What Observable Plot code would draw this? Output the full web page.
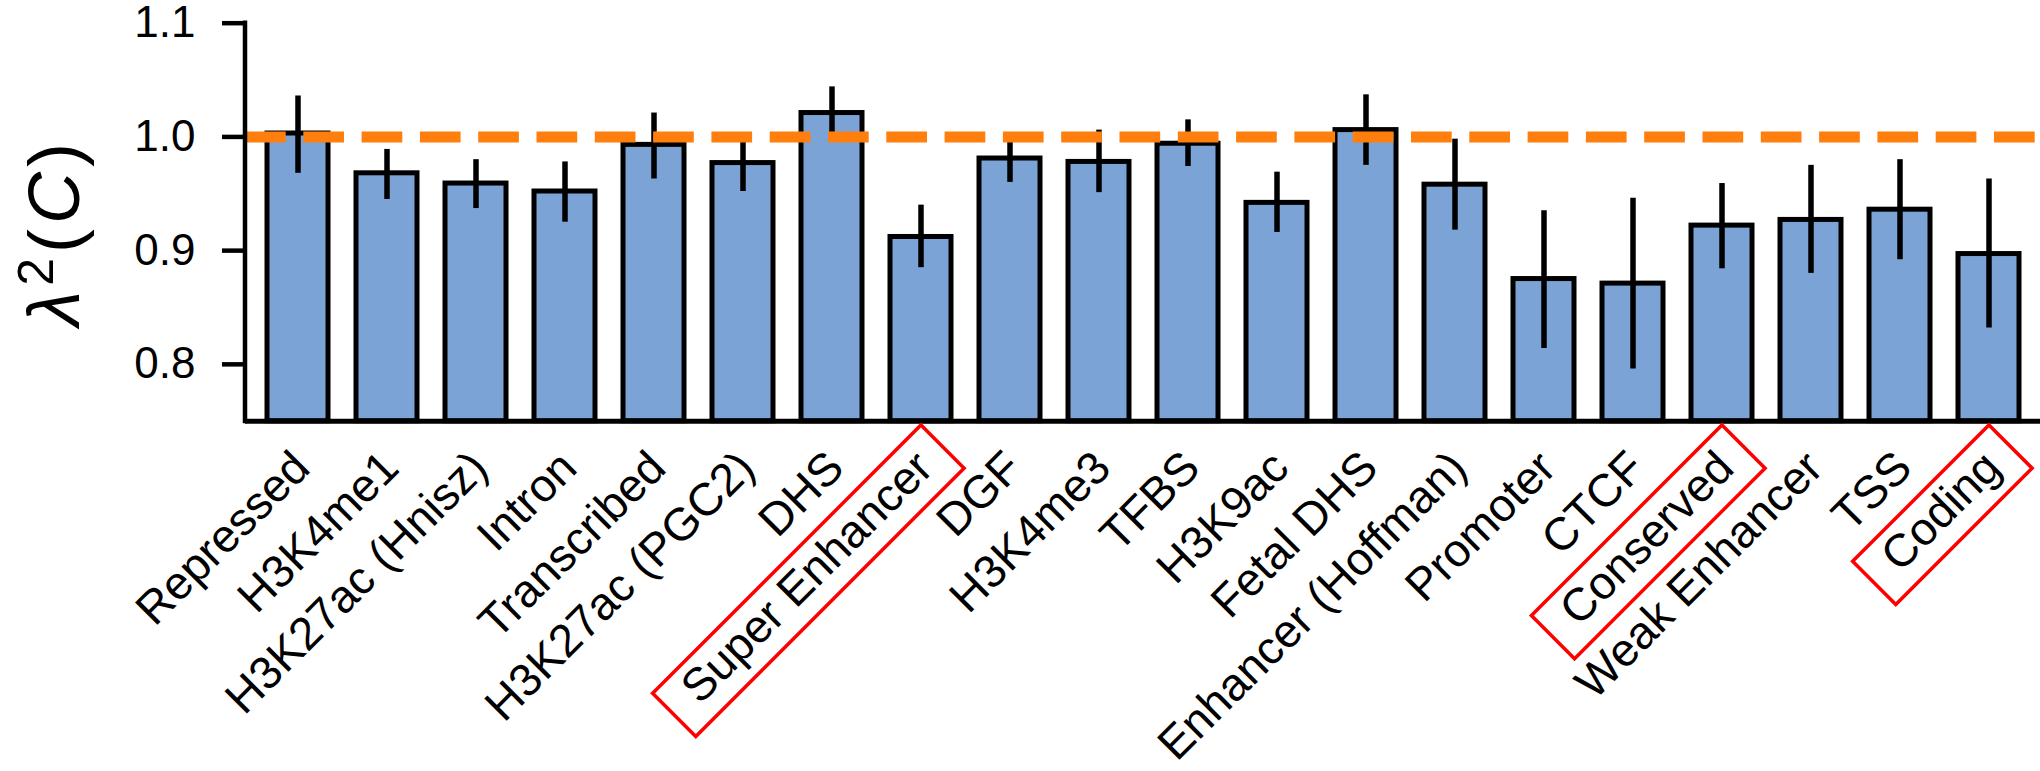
<!DOCTYPE html>
<html><head><meta charset="utf-8">
<script src="https://cdn.jsdelivr.net/npm/d3@7"></script>
<script src="https://cdn.jsdelivr.net/npm/@observablehq/plot@0.6"></script>
<style>html,body{margin:0;padding:0;background:#fff;}</style>
</head><body><div id="chart"></div>
<script>
const categories = ["Repressed","H3K4me1","H3K27ac (Hnisz)","Intron","Transcribed","H3K27ac (PGC2)","DHS","Super Enhancer","DGF","H3K4me3","TFBS","H3K9ac","Fetal DHS","Enhancer (Hoffman)","Promoter","CTCF","Conserved","Weak Enhancer","TSS","Coding"];
const values  = [1.003,0.968,0.959,0.952,0.993,0.977,1.021,0.912,0.981,0.978,0.994,0.942,1.006,0.958,0.875,0.871,0.922,0.927,0.936,0.897];
const errLow  = [0.968,0.945,0.937,0.925,0.963,0.952,0.998,0.885,0.960,0.951,0.974,0.916,0.975,0.918,0.814,0.796,0.884,0.880,0.892,0.832];
const errHigh = [1.036,0.989,0.980,0.978,1.021,1.001,1.044,0.940,1.002,1.006,1.015,0.969,1.037,0.998,0.935,0.946,0.959,0.975,0.980,0.963];
const highlighted = ["Super Enhancer","Conserved","Coding"];
const yTicks = [0.8,0.9,1.0,1.1];
const yDomain = [0.75,1.1];
const referenceLevel = 1.0;
const yLabel = "λ2(C)";
const yLabelParts = [
  {text: "λ", italic: true, sup: false},
  {text: "2", italic: false, sup: true},
  {text: "(", italic: false, sup: false},
  {text: "C", italic: true, sup: false},
  {text: ")", italic: false, sup: false}
];

const data = categories.map((c,i)=>({category:c, value:values[i], lo:errLow[i], hi:errHigh[i]}));

const chart = Plot.plot({
  width: 2040, height: 771,
  marginTop: 22.7, marginBottom: 350.3, marginLeft: 245, marginRight: 0,
  style: {fontFamily: "'Liberation Sans', Arial, sans-serif", background: "white", color: "black", overflow: "visible"},
  x: {domain: categories, paddingInner: 0.32, paddingOuter: 0.16, axis: null},
  y: {domain: yDomain, axis: null},
  marks: [
    Plot.barY(data, {x: "category", y1: yDomain[0], y2: "value", fill: "#7ba3d5", stroke: "black", strokeWidth: 5}),
    Plot.ruleX(data, {x: "category", y1: "lo", y2: "hi", stroke: "black", strokeWidth: 5.5}),
    Plot.ruleY([referenceLevel], {stroke: "#ff7f0e", strokeWidth: 11, strokeDasharray: "40.7,17.6"}),
    Plot.ruleY([yDomain[0]], {stroke: "black", strokeWidth: 5}),
    Plot.axisY({ticks: yTicks, tickFormat: d3.format(".1f"), tickSize: 23, tickPadding: 27, fontSize: 44, strokeWidth: 4.5, label: null}),
    Plot.text(categories, {x: d => d, frameAnchor: "bottom", rotate: -45, textAnchor: "end", lineAnchor: "top", dx: -9, dy: 26, fontSize: 46, fill: "black"}),
    Plot.text([yLabel], {frameAnchor: "left", rotate: -90, dx: -190, dy: 10, fontSize: 72, textAnchor: "middle", lineAnchor: "middle", fill: "black"})
  ]
});
document.getElementById("chart").append(chart);

const svg = d3.select(chart);
const ys = chart.scale("y"), xs = chart.scale("x");
const x0 = xs.range[0];
svg.append("line")
  .attr("x1", x0).attr("x2", x0)
  .attr("y1", ys.apply(yDomain[1]) - 2.25).attr("y2", ys.apply(yDomain[0]) + 2.5)
  .attr("stroke", "black").attr("stroke-width", 4.5);

// y label with superscript and italics
svg.selectAll("text").filter(function() { return this.textContent === yLabel; }).each(function() {
  const t = d3.select(this);
  t.text(null).attr("letter-spacing", "5px");
  let raised = false;
  for (const p of yLabelParts) {
    const ts = t.append("tspan").text(p.text).attr("font-style", p.italic ? "italic" : "normal");
    if (p.sup && !raised) { ts.attr("dy", -26).attr("font-size", 50); raised = true; }
    else if (!p.sup && raised) { ts.attr("dy", 26); raised = false; }
  }
});

// red boxes around highlighted category labels
svg.selectAll("text").filter(function() {
  return highlighted.includes(this.textContent) && (this.getAttribute("transform") || "").includes("rotate");
}).each(function() {
  const bb = this.getBBox();
  d3.select(this.parentNode).append("rect")
    .attr("transform", this.getAttribute("transform"))
    .attr("x", bb.x - 25).attr("y", bb.y)
    .attr("width", bb.width + 47).attr("height", bb.height + 9)
    .attr("fill", "none").attr("stroke", "#ff0000").attr("stroke-width", 3.5);
});
</script>
</body></html>
